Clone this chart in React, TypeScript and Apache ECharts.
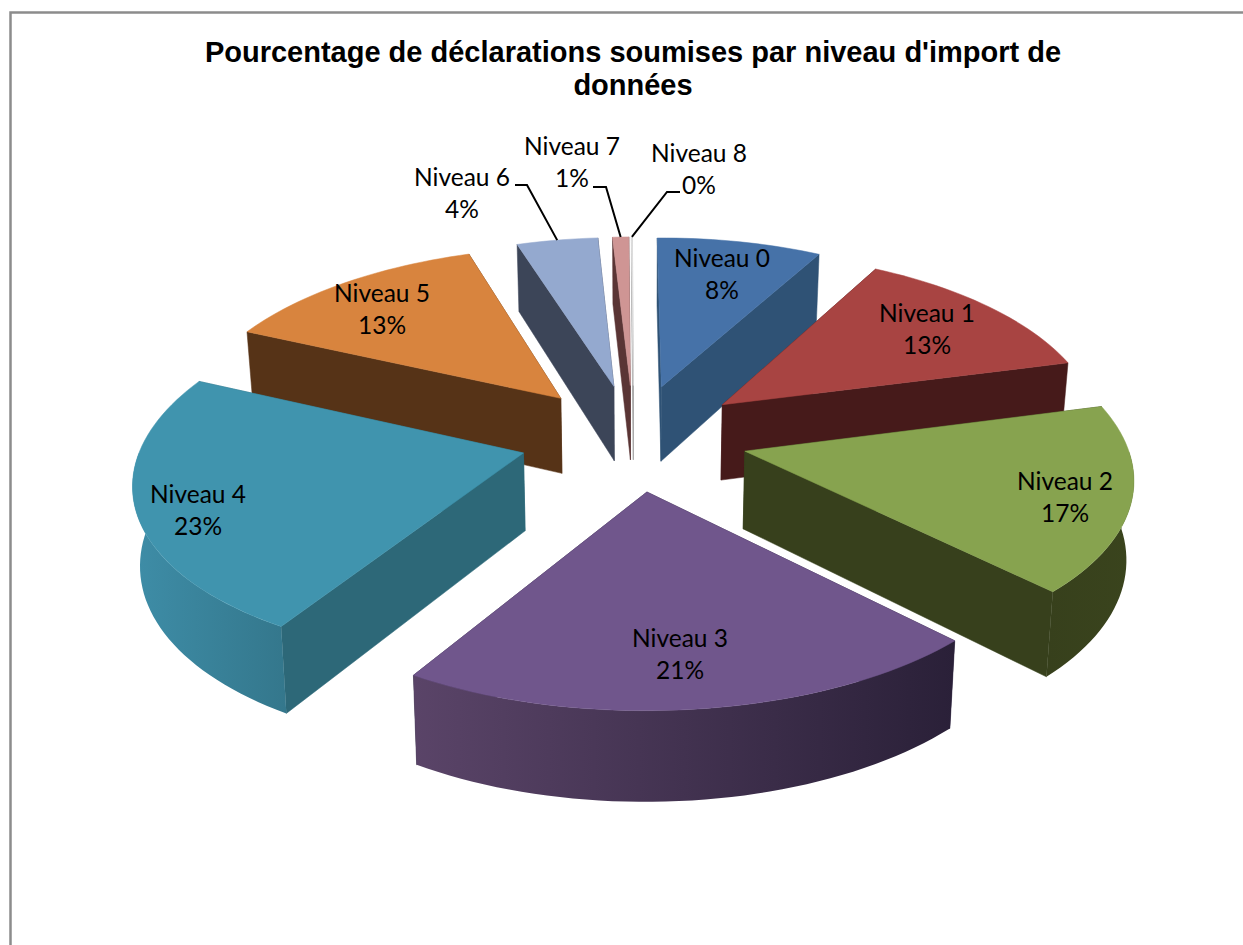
import React, { useEffect, useRef } from "react";
import * as echarts from "echarts";

const categories = ["Niveau 0", "Niveau 1", "Niveau 2", "Niveau 3", "Niveau 4", "Niveau 5", "Niveau 6", "Niveau 7", "Niveau 8"];
const values = [8.15, 13.0, 16.6, 21.1, 23.1, 13.1, 4.0, 0.8, 0.05];
const percentLabels = ["8%", "13%", "17%", "21%", "23%", "13%", "4%", "1%", "0%"];
const topColors = ["#4672a8", "#a84442", "#87a34f", "#70568c", "#4094ae", "#d8843e", "#94a9cf", "#cf9594", "#e8e8e8"];
const wallColors = ["#2f5275", "#461a1a", "#37401c", "#2f2540", "#2d6878", "#563317", "#3c4558", "#5a3535", "#a0a0a0"];
const outerLeft = ["#2f5275", "#461a1a", "#37401c", "#5a4468", "#3e8da7", "#563317", "#3c4558", "#5a3535", "#a0a0a0"];
const outerRight = ["#2f5275", "#461a1a", "#3a441d", "#2a2038", "#34778c", "#563317", "#3c4558", "#5a3535", "#a0a0a0"];
const labelCenters = [[722, 273], [927, 328], [1065, 496], [680, 653], [198, 509], [382, 308], [462, 192], [572, 161], [699, 168]];
const leaderStarts: (number[][] | null)[] = [null, null, null, null, null, null, [[515, 185], [527, 185]], [[593, 187], [606, 187]], [[680, 192], [667, 192]]];

const CX = 634, CY = 437, A = 380, B = 178, KX = 0.132, KY = 0.12, EXPLODE = 0.3, H = 77, SHRINK = 0.985, SHEAR = -4, START = -0.25;
const total = values.reduce((a, b) => a + b, 0);
const starts: number[] = [];
values.reduce((acc, v, i) => { starts[i] = acc; return acc + v; }, START);
const rad = (v: number) => (v / total) * Math.PI * 2;

function ground(i: number, th: number, r: number) {
  const a0 = rad(starts[i]), a1 = rad(starts[i] + values[i]), m = (a0 + a1) / 2;
  return [EXPLODE * Math.sin(m) + r * Math.sin(th), -EXPLODE * Math.cos(m) - r * Math.cos(th)];
}
function proj(g: number[], bottom = false) {
  const sx = 1 / (1 - KX * g[1]);
  const sy = 1 / (1 - KY * g[1]);
  const x = A * g[0] * sx * (bottom ? SHRINK : 1) + SHEAR * g[1];
  const y = B * g[1] * sy + (bottom ? H * sy : 0);
  return [CX + x, CY + y];
}
function arc(i: number, a0: number, a1: number, bottom = false) {
  const n = Math.max(2, Math.ceil(Math.abs(a1 - a0) / 0.03));
  const pts: number[][] = [];
  for (let k = 0; k <= n; k++) pts.push(proj(ground(i, a0 + ((a1 - a0) * k) / n, 1), bottom));
  return pts;
}

function renderSlice(_: any, api: any) {
  const i = api.value(0) as number;
  const a0 = rad(starts[i]);
  const a1 = a0 + rad(api.value(1) as number);
  const apex = ground(i, 0, 0);
  const children: any[] = [];
  const wall = (th: number) => {
    const e = ground(i, th, 1);
    return { points: [proj(apex), proj(e), proj(e, true), proj(apex, true)], z: e[1] };
  };
  [wall(a0), wall(a1)].sort((p, q) => p.z - q.z).forEach((w) => {
    children.push({ type: "polygon", shape: { points: w.points }, style: { fill: wallColors[i], stroke: wallColors[i], lineWidth: 0.5 } });
  });
  const f0 = Math.max(a0, Math.PI / 2), f1 = Math.min(a1, (Math.PI * 3) / 2);
  if (f1 > f0) {
    const pts = [...arc(i, f0, f1), ...arc(i, f1, f0, true)];
    children.push({
      type: "polygon", shape: { points: pts },
      style: { fill: new echarts.graphic.LinearGradient(0, 0, 1, 0, [{ offset: 0, color: outerLeft[i] }, { offset: 1, color: outerRight[i] }]) },
    });
  }
  children.push({ type: "polygon", shape: { points: [proj(apex), ...arc(i, a0, a1)] }, style: { fill: topColors[i], stroke: topColors[i], lineWidth: 0.5 } });
  return { type: "group", children };
}

function renderLabel(_: any, api: any) {
  const i = api.value(0) as number;
  const a0 = rad(starts[i]);
  const m = a0 + rad(api.value(1) as number) / 2;
  const children: any[] = [];
  const lead = leaderStarts[i];
  if (lead) {
    children.push({ type: "polyline", shape: { points: [...lead, proj(ground(i, m, 1))] }, style: { fill: "none", stroke: "#000000", lineWidth: 2 } });
  }
  children.push({
    type: "text", x: labelCenters[i][0], y: labelCenters[i][1],
    style: { text: `${categories[i]}\n${percentLabels[i]}`, fill: "#000000", font: '24.5px Lato', lineHeight: 32, align: "center", verticalAlign: "middle" },
  });
  return { type: "group", children };
}

const drawOrder = values.map((_, i) => i).sort((p, q) => {
  const zp = ground(p, 0, 0)[1], zq = ground(q, 0, 0)[1];
  return zp - zq;
});

export default function App() {
  const ref = useRef<HTMLDivElement>(null);
  useEffect(() => {
    document.body.style.margin = "0";
    const chart = echarts.init(ref.current!, null, { renderer: "svg" });
    chart.setOption({
      animation: false,
      backgroundColor: "#ffffff",
      title: {
        text: "Pourcentage de déclarations soumises par niveau d'import de\ndonnées",
        left: 628, top: 30, textAlign: "center",
        textStyle: { fontFamily: "Liberation Sans", fontWeight: "bold", fontSize: 29, lineHeight: 33, color: "#000000" },
      },
      graphic: [
        { type: "polyline", shape: { points: [[10.5, 945], [10.5, 12.5], [1243, 12.5]] }, style: { fill: "none", stroke: "#8c8c8c", lineWidth: 2.5 } },
      ],
      series: [
        { type: "custom", coordinateSystem: "none", renderItem: renderSlice, data: drawOrder.map((i) => [i, values[i]]), z: 2, silent: true },
        { type: "custom", coordinateSystem: "none", renderItem: renderLabel, data: drawOrder.map((i) => [i, values[i]]), z: 3, silent: true },
      ],
    });
    return () => chart.dispose();
  }, []);
  return <div ref={ref} style={{ width: 1243, height: 945 }} />;
}
